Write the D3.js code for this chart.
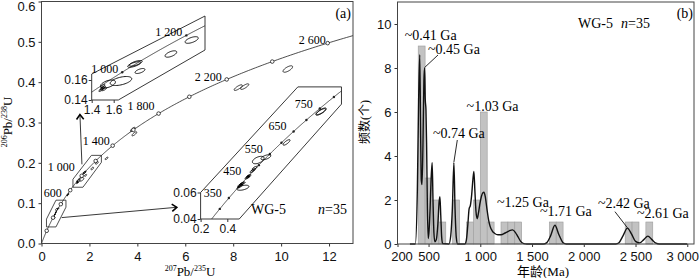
<!DOCTYPE html>
<html>
<head>
<meta charset="utf-8">
<script src="https://cdn.jsdelivr.net/npm/d3@7/dist/d3.min.js"></script>
<style>
body { margin: 0; background: #fff; }
svg { display: block; font-family: "Liberation Serif", "Times New Roman", "Noto Sans CJK SC", serif; }
</style>
</head>
<body>
<div id="chart"></div>
<script>
// U decay constants (1/yr)
const lambda238 = 1.55125e-10;
const lambda235 = 9.8485e-10;

// concordia ages (Ma)
const concordiaMarks = [200, 400, 600, 800, 1000, 1200, 1400, 1600, 1800, 2000, 2200, 2400, 2600];
const concordiaLabels = [600, 1000, 1400, 1800, 2200, 2600];
const inset1Marks = [1000, 1200];
const inset2Marks = [300, 350, 400, 450, 500, 550, 600, 650, 700, 750, 800];
const inset2Labels = [350, 450, 550, 650, 750];

// zircon spots: ratio, 2s, ratio, 2s, error correlation
const pb207u235 = [0.495, 0.503, 0.509, 0.498, 0.519, 0.517, 0.548, 0.556, 0.561, 0.585, 0.597, 0.605,
  0.632, 0.689, 0.844, 1.100, 1.104,
  1.485, 1.495, 1.505, 1.515, 1.500, 1.666, 1.548, 1.786, 1.800, 1.839, 2.120, 2.309,
  2.715, 3.81, 3.875, 8.21, 8.48, 10.28];
const err207 = [0.015, 0.015, 0.015, 0.015, 0.015, 0.045, 0.015, 0.015, 0.016, 0.015, 0.016, 0.018,
  0.044, 0.037, 0.026, 0.037, 0.037,
  0.02, 0.02, 0.02, 0.02, 0.02, 0.098, 0.068, 0.059, 0.059, 0.045, 0.053, 0.06,
  0.06, 0.1, 0.1, 0.17, 0.17, 0.2];
const pb206u238 = [0.0655, 0.0661, 0.0667, 0.0649, 0.0670, 0.0636, 0.0712, 0.0718, 0.0725, 0.0760, 0.0772, 0.0785,
  0.0845, 0.0866, 0.0978, 0.1208, 0.1213,
  0.1500, 0.1515, 0.1525, 0.1508, 0.1540, 0.1590, 0.1560, 0.1755, 0.1767, 0.1690, 0.1860, 0.2000,
  0.2111, 0.2830, 0.2720, 0.3865, 0.3890, 0.4326];
const err206 = [0.001, 0.001, 0.001, 0.001, 0.001, 0.0019, 0.001, 0.001, 0.0011, 0.001, 0.0011, 0.0012,
  0.0028, 0.0019, 0.0021, 0.0025, 0.0025,
  0.0015, 0.0015, 0.0015, 0.0015, 0.0015, 0.0045, 0.004, 0.0028, 0.0028, 0.0025, 0.0032, 0.0033,
  0.003, 0.005, 0.005, 0.007, 0.007, 0.008];
const rho = [0.7, 0.7, 0.7, 0.7, 0.7, 0.5, 0.7, 0.7, 0.7, 0.7, 0.7, 0.7,
  0.5, 0.6, 0.8, 0.8, 0.8,
  0.8, 0.8, 0.8, 0.8, 0.8, 0.5, 0.5, 0.7, 0.7, 0.6, 0.6, 0.6,
  0.7, 0.8, 0.8, 0.8, 0.8, 0.7];

// zoom boxes (ratio units)
const box1Main = [[1.3125, 0.1395], [1.3125, 0.1593], [2.083, 0.2185], [2.5, 0.2185], [2.5, 0.2012], [1.729, 0.1395]];
const box2Main = [[0.208, 0.0411], [0.208, 0.0605], [0.604, 0.1074], [1.021, 0.1074], [1.021, 0.0901], [0.604, 0.0411]];
const inset1Box = [[1.4, 0.14], [1.4, 0.166], [2.43, 0.224], [2.43, 0.19], [1.642, 0.14]];
const inset2Box = [[0.2, 0.04], [0.2, 0.06], [0.9285, 0.1397], [1.2553, 0.1397], [1.2553, 0.1267], [0.4894, 0.04]];
const arrow1 = [[1.6875, 0.1963], [1.604, 0.3198]];
const arrow2 = [[0.842, 0.0642], [5.646, 0.0898]];

// histogram (Ma)
const binStart = [400, 466.7, 533.3, 600, 733.3, 866.7, 933.3, 1000, 1066.7, 1200, 1266.7, 1333.3, 1666.7, 1733.3, 2400, 2466.7, 2600];
const binCount = [9, 3, 2, 1, 2, 1, 2, 6, 1, 1, 1, 1, 1, 1, 1, 1, 1];
const binWidth = 66.67;

// probability density curve
const kdeAge = [320, 372, 392, 404, 415, 424, 430, 437, 446, 455, 462, 468, 475, 481, 489, 497,
  505, 515, 525, 535, 543, 552, 561, 575, 590, 602, 610, 618, 627, 636,
  697, 715, 730, 745, 756, 768, 781,
  851, 866, 880, 892, 904, 916, 928, 938, 948, 958, 970, 982, 995, 1010, 1025, 1035, 1048, 1064, 1080, 1095,
  1115, 1140, 1170, 1200, 1240, 1280, 1312, 1340, 1365, 1390, 1420, 1450,
  1610, 1640, 1680, 1721, 1760, 1800, 1830,
  2310, 2340, 2380, 2421, 2462, 2500, 2540, 2580, 2619, 2658, 2697, 2730, 3000];
const kdeValue = [0, 0, 2.5, 6.5, 8.6, 4.8, 2.9, 2.7, 4.5, 7.4, 8.0, 6.6, 6.1, 4.6, 1.6, 0.25,
  0.6, 1.6, 3.0, 3.7, 2.0, 0.5, 0.1, 0.2, 0.9, 1.9, 2.15, 1.3, 0.3, 0.02,
  0, 0.4, 1.6, 3.7, 1.6, 0.3, 0,
  0, 0.2, 0.9, 1.6, 1.75, 2.2, 2.9, 3.3, 2.4, 1.5, 1.15, 1.4, 1.8, 2.15, 2.33, 2.35, 2.15, 1.6, 1.1, 0.8,
  0.6, 0.48, 0.42, 0.42, 0.5, 0.6, 0.64, 0.52, 0.32, 0.12, 0.02, 0,
  0, 0.05, 0.38, 0.85, 0.42, 0.06, 0,
  0, 0.06, 0.38, 0.72, 0.45, 0.12, 0.05, 0.2, 0.36, 0.2, 0.04, 0, 0];

const peakText = ['~0.41 Ga', '~0.45 Ga', '~0.74 Ga', '~1.03 Ga', '~1.25 Ga', '~1.71 Ga', '~2.42 Ga', '~2.61 Ga'];
const peakAge = [415, 462, 745, 1035, 1312, 1721, 2421, 2619];
const peakValue = [8.6, 8.0, 3.7, 2.35, 0.64, 0.85, 0.72, 0.36];

// ticks
const ratioXTicks = [0, 2, 4, 6, 8, 10, 12];
const ratioYTicks = [0, 0.1, 0.2, 0.3, 0.4, 0.5, 0.6];
const ageTicks = [200, 500, 1000, 1500, 2000, 2500, 3000];
const countTicks = [0, 2, 4, 6, 8, 10];

const width = 700;
const height = 278;
const svg = d3.select('#chart').append('svg').attr('width', width).attr('height', height);
const defs = svg.append('defs');

const concordia = t => [Math.exp(lambda235 * t * 1e6) - 1, Math.exp(lambda238 * t * 1e6) - 1];

function ellipsePoints(i) {
    const r = rho[i];
    const s = Math.sqrt(1 - r * r);
    return d3.range(49).map(k => {
        const a = k / 48 * 2 * Math.PI;
        const u = Math.cos(a);
        const v = Math.sin(a);
        return [pb207u235[i] + err207[i] * u, pb206u238[i] + err206[i] * (r * u + s * v)];
    });
}

function drawSpots(g, xs, ys, w) {
    const line = d3.line().x(d => xs(d[0])).y(d => ys(d[1]));
    g.selectAll('path.spot')
        .data(d3.range(pb207u235.length))
        .join('path')
        .attr('class', 'spot')
        .attr('d', i => line(ellipsePoints(i)) + 'Z')
        .attr('fill', 'none')
        .attr('stroke', '#000')
        .attr('stroke-width', w);
}

function drawConcordia(g, xs, ys, t0, t1, step) {
    g.append('path')
        .datum(d3.range(t0, t1, step).map(concordia))
        .attr('d', d3.line().x(d => xs(d[0])).y(d => ys(d[1])))
        .attr('fill', 'none')
        .attr('stroke', '#222')
        .attr('stroke-width', 0.8);
}

function styleAxis(g, size) {
    g.select('.domain').remove();
    g.selectAll('line').attr('stroke', '#333');
    g.selectAll('text').attr('fill', '#111').style('font-size', size + 'px').style('font-family', null);
}

function drawArrow(g, pts, xs, ys) {
    const [x1, y1] = [xs(pts[0][0]), ys(pts[0][1])];
    const [x2, y2] = [xs(pts[1][0]), ys(pts[1][1])];
    const a = Math.atan2(y2 - y1, x2 - x1);
    g.append('line').attr('x1', x1).attr('y1', y1).attr('x2', x2).attr('y2', y2)
        .attr('stroke', '#222').attr('stroke-width', 0.9);
    const head = [a + 2.5, a - 2.5].map(b => [x2 + 6 * Math.cos(b), y2 + 6 * Math.sin(b)]);
    g.append('path')
        .attr('d', `M${head[0]}L${x2},${y2}L${head[1]}`)
        .attr('fill', 'none').attr('stroke', '#000').attr('stroke-width', 1.6);
}

function superText(g, x, y, parts, rotate) {
    const t = g.append('text')
        .attr('text-anchor', 'middle')
        .attr('transform', `translate(${x},${y})` + (rotate ? ' rotate(-90)' : ''))
        .style('font-size', '13px');
    parts.forEach(([s, sup]) => {
        t.append('tspan')
            .attr('dy', sup ? -5 : 5)
            .style('font-size', sup ? '8px' : '13px')
            .text(s);
    });
    t.select('tspan').attr('dy', -5);
}

// ---------- panel a ----------
function drawConcordiaPanel() {
    const xs = d3.scaleLinear().domain([0, 13]).range([41.5, 353]);
    const ys = d3.scaleLinear().domain([0, 0.6]).range([243.5, 1.5]);
    const g = svg.append('g');

    defs.append('clipPath').attr('id', 'clip-a').append('rect')
        .attr('x', 41.5).attr('y', 1.5).attr('width', 353 - 41.5).attr('height', 242);

    const plot = g.append('g').attr('clip-path', 'url(#clip-a)');
    drawConcordia(plot, xs, ys, 0, 2900, 10);

    const boxLine = d3.line().x(d => xs(d[0])).y(d => ys(d[1]));
    [box1Main, box2Main].forEach(b => {
        plot.append('path').attr('d', boxLine(b) + 'Z')
            .attr('fill', 'none').attr('stroke', '#222').attr('stroke-width', 0.8);
    });

    drawSpots(plot, xs, ys, 0.8);

    plot.selectAll('circle.mark')
        .data(concordiaMarks)
        .join('circle')
        .attr('class', 'mark')
        .attr('cx', t => xs(concordia(t)[0]))
        .attr('cy', t => ys(concordia(t)[1]))
        .attr('r', 1.8)
        .attr('fill', '#fff')
        .attr('stroke', '#000')
        .attr('stroke-width', 0.7);

    const labelShift = {600: [1, -7], 1000: [-7, -4.5], 1400: [-3, -1], 1800: [-4, -4], 2200: [-5, 2], 2600: [-2, 1]};
    g.selectAll('text.age')
        .data(concordiaLabels)
        .join('text')
        .attr('class', 'age')
        .attr('text-anchor', 'end')
        .attr('x', t => xs(concordia(t)[0]) + labelShift[t][0])
        .attr('y', t => ys(concordia(t)[1]) + labelShift[t][1])
        .style('font-size', '12px')
        .text(t => d3.format(',')(t).replace(',', ' '));

    drawArrow(g, arrow1, xs, ys);
    drawArrow(g, arrow2, xs, ys);

    const xAxis = g.append('g').attr('transform', 'translate(0,243.5)')
        .call(d3.axisBottom(xs).tickValues(ratioXTicks).tickSize(3).tickPadding(5).tickFormat(d3.format('d')));
    styleAxis(xAxis, 13);
    const yAxis = g.append('g').attr('transform', 'translate(41.5,0)')
        .call(d3.axisLeft(ys).tickValues(ratioYTicks).tickSize(3).tickPadding(3).tickFormat(d3.format('.1f')));
    styleAxis(yAxis, 13);
    yAxis.selectAll('text').filter(d => d === 0.6).attr('dy', '0.7em');

    g.append('rect').attr('x', 41.5).attr('y', 1.5).attr('width', 353 - 41.5).attr('height', 242)
        .attr('fill', 'none').attr('stroke', '#444').attr('stroke-width', 1);

    drawInset(g, 'inset1',
        d3.scaleLinear().domain([1.4, 1.6]).range([91.7, 113.7]),
        d3.scaleLinear().domain([0.14, 0.16]).range([100, 80]),
        inset1Box, [1.4, 1.6], [0.14, 0.16], inset1Marks, inset1Marks, [-4, 1], 700, 1600);
    drawInset(g, 'inset2',
        d3.scaleLinear().domain([0.2, 0.4]).range([200.6, 227.3]),
        d3.scaleLinear().domain([0.04, 0.06]).range([219, 192.5]),
        inset2Box, [0.2, 0.4], [0.04, 0.06], inset2Marks, inset2Labels, [-7, -1], 150, 900);

    g.append('text').attr('x', 351).attr('y', 18).attr('text-anchor', 'end')
        .style('font-size', '14px').text('(a)');
    g.append('text').attr('x', 251).attr('y', 214).style('font-size', '14px').text('WG-5');
    const n = g.append('text').attr('x', 347).attr('y', 214).attr('text-anchor', 'end').style('font-size', '14px');
    n.append('tspan').style('font-style', 'italic').text('n');
    n.append('tspan').text('=35');

    superText(g, 190, 276, [['207', true], ['Pb/', false], ['235', true], ['U', false]], false);
    superText(g, 12, 122, [['206', true], ['Pb/', false], ['238', true], ['U', false]], true);
}

function drawInset(g, id, xs, ys, box, xTicks, yTicks, marks, labels, shift, t0, t1) {
    const pts = box.map(d => [xs(d[0]), ys(d[1])]);
    defs.append('clipPath').attr('id', id).append('polygon').attr('points', pts.join(' '));
    const ig = g.append('g');
    ig.append('polygon').attr('points', pts.join(' '))
        .attr('fill', '#fff').attr('stroke', '#222').attr('stroke-width', 0.9);

    const inner = ig.append('g').attr('clip-path', `url(#${id})`);
    drawConcordia(inner, xs, ys, t0, t1, 2);
    inner.selectAll('circle.mark')
        .data(marks)
        .join('circle')
        .attr('class', 'mark')
        .attr('cx', t => xs(concordia(t)[0]))
        .attr('cy', t => ys(concordia(t)[1]))
        .attr('r', 1.2)
        .attr('fill', '#222');
    drawSpots(inner, xs, ys, 0.9);

    ig.selectAll('text.age')
        .data(labels)
        .join('text')
        .attr('class', 'age')
        .attr('text-anchor', 'end')
        .attr('x', t => xs(concordia(t)[0]) + shift[0])
        .attr('y', t => ys(concordia(t)[1]) + shift[1])
        .style('font-size', '12px')
        .text(t => d3.format(',')(t).replace(',', ' '));

    const xa = ig.append('g').attr('transform', `translate(0,${ys(yTicks[0])})`)
        .call(d3.axisBottom(xs).tickValues(xTicks).tickSize(3).tickPadding(2).tickFormat(d3.format('.1f')));
    styleAxis(xa, 12);
    const ya = ig.append('g').attr('transform', `translate(${xs(xTicks[0])},0)`)
        .call(d3.axisLeft(ys).tickValues(yTicks).tickSize(3).tickPadding(1).tickFormat(d3.format('.2f')));
    styleAxis(ya, 12);
}

// ---------- panel b ----------
function drawHistogramPanel() {
    const xs = d3.scaleLinear().domain([200, 3065]).range([397.5, 694]);
    const ys = d3.scaleLinear().domain([0, 11]).range([244, 2]);
    const g = svg.append('g');

    g.selectAll('rect.bar')
        .data(binStart)
        .join('rect')
        .attr('class', 'bar')
        .attr('x', d => xs(d))
        .attr('width', d => xs(d + binWidth) - xs(d))
        .attr('y', (d, i) => ys(binCount[i]))
        .attr('height', (d, i) => ys(0) - ys(binCount[i]))
        .attr('fill', '#c2c2c2')
        .attr('stroke', '#9c9c9c')
        .attr('stroke-width', 0.6);

    g.append('path')
        .datum(d3.zip(kdeAge, kdeValue))
        .attr('d', d3.line().x(d => xs(d[0])).y(d => ys(d[1])).curve(d3.curveMonotoneX))
        .attr('fill', 'none')
        .attr('stroke', '#111')
        .attr('stroke-width', 1.4);

    // label offsets from each peak: text dx, dy, leader end dx, dy
    const peakLayout = [
        [-15, -15], [3.4, -14, 13.4, -13], [-21, -24.6, 3.4, -22.6], [-17.3, -81.3],
        [-15.6, -23], [-15, -9.3], [-29.4, -20.2, -12.4, -16.5], [-10.9, -18.1]
    ];
    peakText.forEach((s, i) => {
        const px = xs(peakAge[i]);
        const py = ys(peakValue[i]);
        const L = peakLayout[i];
        g.append('text').attr('x', px + L[0]).attr('y', py + L[1])
            .style('font-size', '14px').text(s);
        if (L.length > 2) {
            g.append('line').attr('x1', px).attr('y1', py - 0.5)
                .attr('x2', px + L[2]).attr('y2', py + L[3])
                .attr('stroke', '#111').attr('stroke-width', 0.9);
        }
    });

    const ageFormat = d => d >= 1000 ? d3.format(',')(d).replace(',', ' ') : String(d);
    const xAxis = g.append('g').attr('transform', 'translate(0,244)')
        .call(d3.axisBottom(xs).tickValues(ageTicks).tickSize(3).tickPadding(5).tickFormat(ageFormat));
    styleAxis(xAxis, 13);
    xAxis.selectAll('text').filter(d => d === 200).attr('dx', 4);
    xAxis.selectAll('text').filter(d => d === 3000).attr('dx', -5);
    const yAxis = g.append('g').attr('transform', 'translate(397.5,0)')
        .call(d3.axisLeft(ys).tickValues(countTicks).tickSize(3).tickPadding(3));
    styleAxis(yAxis, 13);

    g.append('rect').attr('x', 397.5).attr('y', 2).attr('width', 694 - 397.5).attr('height', 242)
        .attr('fill', 'none').attr('stroke', '#444').attr('stroke-width', 1);

    g.append('text').attr('x', 693).attr('y', 18).attr('text-anchor', 'end')
        .style('font-size', '14px').text('(b)');
    g.append('text').attr('x', 578).attr('y', 28).style('font-size', '14px').text('WG-5');
    const n = g.append('text').attr('x', 650).attr('y', 28).attr('text-anchor', 'end').style('font-size', '14px');
    n.append('tspan').style('font-style', 'italic').text('n');
    n.append('tspan').text('=35');

    g.append('text').attr('transform', 'translate(369,122) rotate(-90)')
        .attr('text-anchor', 'middle').style('font-size', '12px').text('频数(个)');
    g.append('text').attr('x', 543).attr('y', 276).attr('text-anchor', 'middle')
        .style('font-size', '13px').text('年龄(Ma)');
}

drawConcordiaPanel();
drawHistogramPanel();
</script>
</body>
</html>
